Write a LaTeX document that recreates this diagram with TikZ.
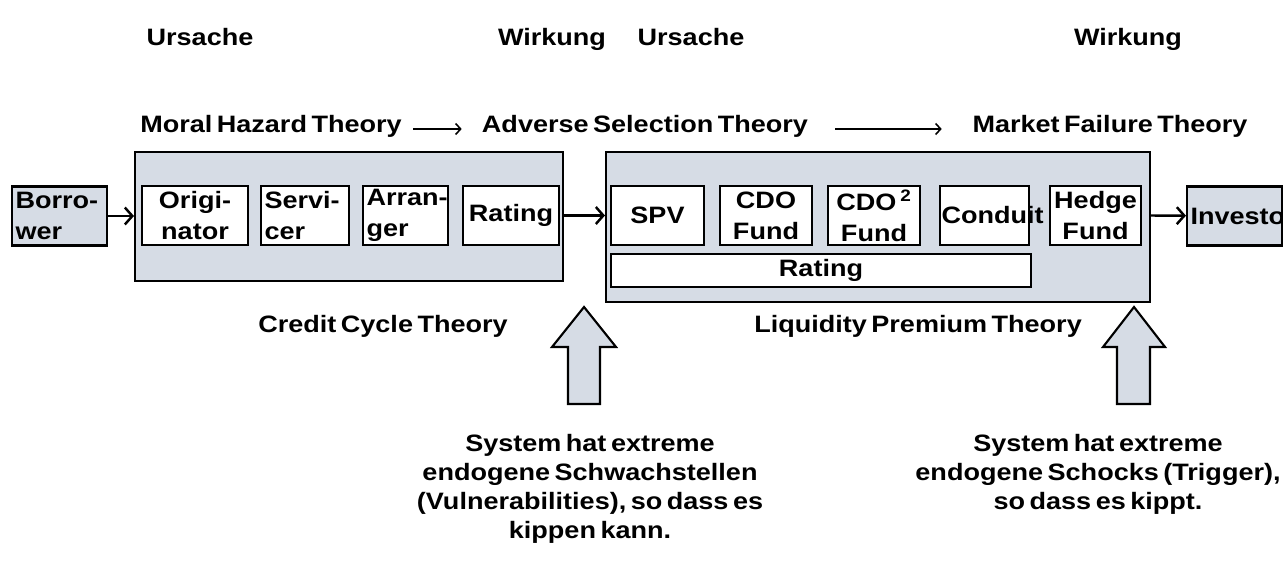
\documentclass[tikz,border=0pt]{standalone}
\usepackage{fontspec}
\setmainfont{Liberation Sans}[WordSpace=0.6,FakeStretch=1.14]
\usetikzlibrary{arrows.meta}
\definecolor{boxgray}{RGB}{214,220,229}

\begin{document}
\begin{tikzpicture}[x=0.02cm,y=-0.02cm,
    font=\fontsize{13.5}{16.5}\selectfont\bfseries,
    lbl/.style={anchor=base},
    bx/.style={draw,line width=1.2pt,fill=white,inner sep=2pt,minimum height=1.18cm,align=center,
      font=\fontsize{13.5}{17.5}\selectfont\bfseries},
    bigbx/.style={draw,line width=1.2pt,fill=boxgray,inner sep=0pt},
    conn/.style={line width=1.4pt,-{Straight Barb[length=1.5mm,width=3.4mm]}},
    harrow/.style={line width=0.9pt,-{Straight Barb[length=1mm,width=2.2mm]}},
    uparr/.style={draw,line width=1.2pt,fill=boxgray,line join=miter}]
    \useasboundingbox (0,0) rectangle (1283,570);

    % headings
    \node[lbl] (u1) at (200,46) {Ursache};
    \node[lbl] (w1) at (552,46) {Wirkung};
    \node[lbl] (u2) at (691,46) {Ursache};
    \node[lbl] (w2) at (1128,46) {Wirkung};
    \node[lbl] (mh) at (271,133) {Moral Hazard Theory};
    \node[lbl] (as) at (645,133) {Adverse Selection Theory};
    \node[lbl] (mf) at (1110,133) {Market Failure Theory};
    \coordinate (ha) at (0,129);
    \draw[harrow,shorten <=3pt,shorten >=8pt] (mh.east |- ha) -- (as.west |- ha);
    \draw[harrow,shorten <=12pt,shorten >=14pt] (as.east |- ha) -- (mf.west |- ha);

    % chains
    \node[bigbx,minimum width=8.56cm,minimum height=2.58cm] (chainL) at (349,216.5) {};
    \node[bigbx,minimum width=10.88cm,minimum height=3.0cm] (chainR) at (878,227) {};
    \node[bx,fill=boxgray,text width=1.76cm,align=left] (borrow) at (59.5,216) {\mbox{Borro-}\\wer};
    \node[bx,text width=1.98cm] (orig) at (195,215.5) {\mbox{Origi-}\\nator};
    \node[bx,text width=1.62cm,align=left] (serv) at (305,215.5) {\mbox{Servi-}\\cer};
    \node[bx,text width=1.56cm,align=left] (arr) at (405.5,215.5) {\mbox{Arran-}\\ger};
    \node[bx,text width=1.78cm] (rateL) at (511,215.5) {Rating};
    \node[bx,text width=1.72cm] (spv) at (657.5,215.5) {SPV};
    \node[bx,text width=1.70cm] (cdo) at (766,215.5) {CDO\\Fund};
    \node[bx,text width=1.70cm] (cdoq) at (874,215.5) {CDO\,\textsuperscript{2}\\Fund};
    \node[bx,text width=1.72cm,inner sep=1pt] (cond) at (984.5,215.5) {Conduit};
    \node[bx,text width=1.68cm] (hedge) at (1095.5,215.5) {Hedge\\Fund};
    \node[bx,text width=8.26cm,minimum height=0.66cm] (rateR) at (821,270.5) {Rating};
    \node[bx,fill=boxgray,text width=1.76cm,align=left] (invest) at (1234.5,216) {Investor};
    \draw[conn] (borrow) -- (chainL.west |- borrow);
    \draw[conn] (chainL.east |- rateL) -- (chainR.west |- rateL);
    \draw[conn] (chainR.east |- hedge) -- (invest);

    \node[lbl] (cc) at (383,333) {Credit Cycle Theory};
    \node[lbl] (lp) at (918,333) {Liquidity Premium Theory};

    % trigger arrows
    \draw[uparr] (584,307) -- (616,347) -- (600,347) -- (600,404) -- (568,404) -- (568,347) -- (552,347) -- cycle;
    \draw[uparr] (1134,307) -- (1165,347) -- (1150,347) -- (1150,404) -- (1117,404) -- (1117,347) -- (1103,347) -- cycle;

    \node[anchor=north,align=center] (vuln) at (590,428) {System hat extreme\\endogene Schwachstellen\\(Vulnerabilities), so dass es\\kippen kann.};
    \node[anchor=north,align=center] (shock) at (1098,428) {System hat extreme\\endogene Schocks (Trigger),\\so dass es kippt.};
\end{tikzpicture}
\end{document}
